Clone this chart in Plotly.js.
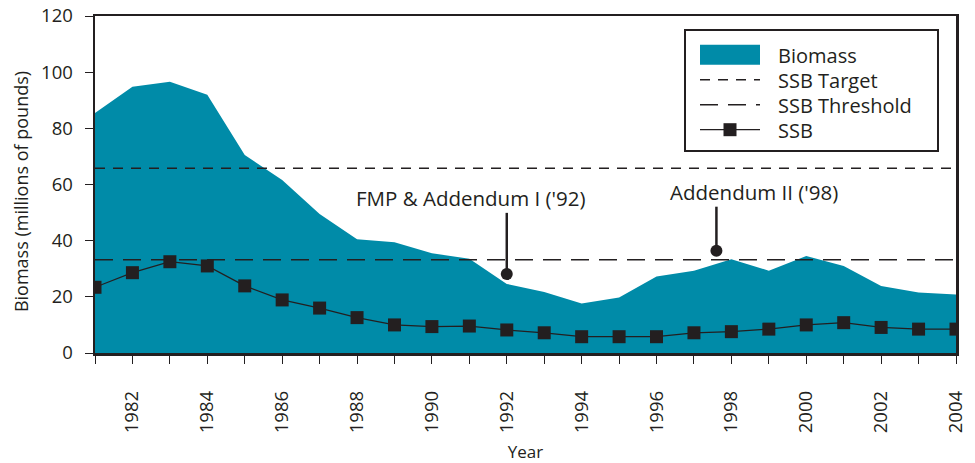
<!DOCTYPE html>
<html>
<head>
<meta charset="utf-8">
<script src="https://cdn.plot.ly/plotly-3.0.1.min.js"></script>
<style>html,body{margin:0;padding:0;background:#fff;}#chart{width:975px;height:463px;}</style>
</head>
<body>
<div id="chart"></div>
<script>
const years = [1981,1982,1983,1984,1985,1986,1987,1988,1989,1990,1991,1992,1993,1994,1995,1996,1997,1998,1999,2000,2001,2002,2003,2004];
const biomass = [85.5,94.8,96.6,92.0,70.5,61.6,49.5,40.5,39.4,35.5,33.6,24.6,21.7,17.6,19.8,27.2,29.3,33.4,29.3,34.5,31.0,23.9,21.5,20.8];
const ssb = [23.4,28.6,32.5,31.0,23.9,18.9,16.0,12.6,10.0,9.4,9.6,8.2,7.2,5.8,5.8,5.8,7.2,7.6,8.5,10.0,10.8,9.1,8.5,8.5];
const ssbTarget = 65.8;
const ssbThreshold = 33.2;
const seriesNames = ['Biomass', 'SSB Target', 'SSB Threshold', 'SSB'];
const annoYears = [1992, 1997.6];
const annoDotY = [28.1, 36.4];
const annoTopY = [49.9, 52.1];
const annoLabels = ["FMP & Addendum I ('92)", "Addendum II ('98)"];
const annoLabelX = [1991.05, 1998.6];
const annoLabelY = [55.2, 57.3];
const yTicks = [0,20,40,60,80,100,120];
const xTicks = [1982,1984,1986,1988,1990,1992,1994,1996,1998,2000,2002,2004];

const ink = '#231f20';
const teal = '#008ba8';
const font = '"Open Sans", Lato, sans-serif';
const xEnds = [years[0], years[years.length-1]];

const traces = [
  {x: years, y: biomass, type:'scatter', mode:'lines', fill:'tozeroy', fillcolor: teal,
   line:{width:0, color: teal}, name: seriesNames[0]},
  {x: xEnds, y: [ssbTarget, ssbTarget], type:'scatter', mode:'lines',
   line:{color: ink, width:1.6, dash:'10px,8px'}, name: seriesNames[1]},
  {x: xEnds, y: [ssbThreshold, ssbThreshold], type:'scatter', mode:'lines',
   line:{color: ink, width:1.4, dash:'18px,10px'}, name: seriesNames[2]},
  {x: years, y: ssb, type:'scatter', mode:'lines+markers',
   line:{color: ink, width:1.2}, marker:{symbol:'square', size:13, color: ink}, name: seriesNames[3]}
];
annoYears.forEach((yr, i) => {
  traces.push({x:[yr, yr], y:[annoTopY[i], annoDotY[i]], type:'scatter', mode:'lines',
    line:{color: ink, width:2.5}, showlegend:false, hoverinfo:'skip'});
  traces.push({x:[yr], y:[annoDotY[i]], type:'scatter', mode:'markers',
    marker:{symbol:'circle', size:12, color: ink}, showlegend:false, hoverinfo:'skip'});
});

const annotations = annoLabels.map((t, i) => ({
  x: annoLabelX[i], y: annoLabelY[i], xref:'x', yref:'y', text: t, showarrow:false,
  font:{family: font, size:20.5, color: ink}, xanchor:'center', yanchor:'middle'
}));

const layout = {
  width:975, height:463,
  margin:{l:95, r:19, t:16, b:110},
  paper_bgcolor:'#fff', plot_bgcolor:'#fff',
  font:{family: font, color: ink, size:18},
  showlegend:true,
  legend:{x:0.6935, y:0.96, xanchor:'left', yanchor:'top', bgcolor:'#fff',
    bordercolor: ink, borderwidth:1.2, font:{family: font, size:20, color: ink},
    itemwidth:60, traceorder:'normal', tracegroupgap:0},
  xaxis:{range: xEnds, tickmode:'array', tickvals: xTicks, ticktext: xTicks.map(String),
    tickangle:-90, ticks:'outside', ticklen:8, tickwidth:1, tickcolor: ink,
    minor:{dtick:1, tick0:1981, ticks:'outside', ticklen:8, tickwidth:1, tickcolor: ink},
    showline:true, linecolor: ink, linewidth:2.5, mirror:true, showgrid:false, zeroline:false,
    ticklabelstandoff:20, tickfont:{family: font, size:18.5, color: ink},
    title:{text:'Year', font:{family: font, size:17, color: ink}, standoff:14}},
  yaxis:{range:[0,120], tickmode:'array', tickvals: yTicks, ticks:'outside', ticklen:8, tickwidth:1,
    tickcolor: ink, showline:true, linecolor: ink, linewidth:2.5, mirror:true, showgrid:false, zeroline:false,
    ticklabelstandoff:8, tickfont:{family: font, size:18.5, color: ink},
    title:{text:'Biomass (millions of pounds)', font:{family: font, size:18, color: ink}, standoff:8}},
  annotations: annotations
};

function parseT(el) {
  const m = /translate\(\s*([-\d.e]+)[ ,]+([-\d.e]+)\s*\)/.exec(el.getAttribute('transform') || '');
  return m ? [+m[1], +m[2]] : [0, 0];
}
function pathsLeft(g) {
  let l = Infinity;
  g.querySelectorAll('path').forEach(p => {
    const r = p.getBoundingClientRect();
    if (r.width > 0 || r.height > 0) l = Math.min(l, r.left);
  });
  return l;
}

Plotly.newPlot('chart', traces, layout, {displayModeBar:false, staticPlot:true}).then(gd => {
  const leg = gd.querySelector('g.legend');
  if (leg) {
    // legend box placement, row spacing and solid Biomass swatch as in the original
    const box = {left:685, top:30, right:938, bottom:151, symLeft:700, textLeft:778, row0:55, rowGap:25};
    leg.setAttribute('transform', `translate(${box.left},${box.top})`);
    const bg = leg.querySelector('rect.bg');
    bg.setAttribute('x', 0); bg.setAttribute('y', 0);
    bg.setAttribute('width', box.right - box.left);
    bg.setAttribute('height', box.bottom - box.top);
    const sb = leg.querySelector('.scrollbox');
    if (sb) sb.removeAttribute('clip-path');
    leg.removeAttribute('clip-path');
    const fillPath = leg.querySelector('.legendfill path');
    if (fillPath) {
      fillPath.setAttribute('d', 'M0,-10h60v20h-60z');
      fillPath.style.fill = teal;
    }
    const items = [...leg.querySelectorAll('g.traces')];
    items.forEach((g, i) => {
      const t = g.querySelector('text.legendtext');
      let tr = t.getBoundingClientRect();
      const cy = tr.top + tr.height / 2;
      const [gx, gy] = parseT(g);
      const pl = pathsLeft(g);
      const sx = isFinite(pl) ? box.symLeft - pl : 0;
      g.setAttribute('transform', `translate(${gx + sx},${gy + (box.row0 + box.rowGap * i - cy)})`);
      tr = t.getBoundingClientRect();
      t.setAttribute('x', +t.getAttribute('x') + (box.textLeft - tr.left));
    });
  }
  // y-axis title sits a little below centre in the original
  const yt = gd.querySelector('.ytitle');
  if (yt) yt.setAttribute('transform', 'translate(0,7) ' + (yt.getAttribute('transform') || ''));
});
</script>
</body>
</html>
